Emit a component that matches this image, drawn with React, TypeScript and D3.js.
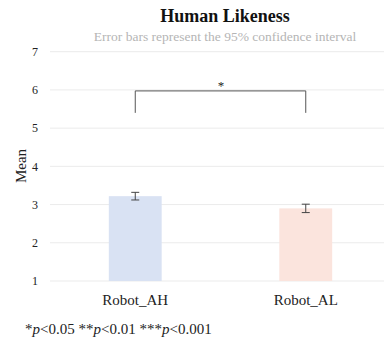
import React from 'react';
import * as d3 from 'd3';

const categories = ['Robot_AH', 'Robot_AL'];
const means = [3.22, 2.9];
const ciHalf = [0.1, 0.11];
const barColors = ['#d9e2f3', '#fbe4dd'];
const yTicks = [1, 2, 3, 4, 5, 6, 7];

const W = 384;
const H = 337;
const FONT = '"Liberation Serif", "DejaVu Serif", serif';

export default function App() {
  const x = d3.scaleBand<string>().domain(categories).range([50, 391]).paddingInner(0.69).paddingOuter(0.345);
  const y = d3.scaleLinear().domain([1, 7]).range([281, 51.7]);
  const bw = x.bandwidth();
  const cx = (c: string) => (x(c) ?? 0) + bw / 2;
  const bracketY = y(6) + 1;
  const bracketBottom = y(5.4);

  return (
    <svg width={W} height={H} style={{ position: 'absolute', left: 0, top: 0, background: '#fff' }}>
      <text x={225} y={22} textAnchor="middle" fontFamily={FONT} fontWeight="bold" fontSize={18} fill="#111">
        Human Likeness
      </text>
      <text x={225} y={41} textAnchor="middle" fontFamily={FONT} fontSize={13.5} fill="#b5b5b5">
        Error bars represent the 95% confidence interval
      </text>

      {yTicks.map(t => (
        <g key={t}>
          <line x1={50} x2={W} y1={y(t)} y2={y(t)} stroke="#ebebeb" strokeWidth={1} />
          <text x={35} y={y(t)} dy="0.35em" textAnchor="middle" fontFamily={FONT} fontSize={12} fill="#222">
            {t}
          </text>
        </g>
      ))}

      <text transform="translate(21,166) rotate(-90)" textAnchor="middle" dy="0.35em"
        fontFamily={FONT} fontSize={15} fill="#222">
        Mean
      </text>

      {categories.map((c, i) => (
        <g key={c}>
          <rect x={x(c)} y={y(means[i])} width={bw} height={y(1) - y(means[i])} fill={barColors[i]} />
          <line x1={cx(c)} x2={cx(c)} y1={y(means[i] + ciHalf[i])} y2={y(means[i] - ciHalf[i])} stroke="#444" strokeWidth={1} />
          <line x1={cx(c) - 4} x2={cx(c) + 4} y1={y(means[i] + ciHalf[i])} y2={y(means[i] + ciHalf[i])} stroke="#444" strokeWidth={1} />
          <line x1={cx(c) - 4} x2={cx(c) + 4} y1={y(means[i] - ciHalf[i])} y2={y(means[i] - ciHalf[i])} stroke="#444" strokeWidth={1} />
          <text x={cx(c)} y={300} dy="0.35em" textAnchor="middle" fontFamily={FONT} fontSize={15} fill="#222">
            {c}
          </text>
        </g>
      ))}

      <path
        d={`M${cx(categories[0])},${bracketBottom}V${bracketY}H${cx(categories[1])}V${bracketBottom}`}
        fill="none" stroke="#555" strokeWidth={1}
      />
      <text x={(cx(categories[0]) + cx(categories[1])) / 2 + 0.5} y={bracketY - 1} textAnchor="middle"
        fontFamily={FONT} fontSize={13} fill="#222">
        *
      </text>

      <text x={25} y={329} dy="0.35em" fontFamily={FONT} fontSize={15} fill="#222">
        *<tspan fontStyle="italic">p</tspan>{'<0.05 **'}<tspan fontStyle="italic">p</tspan>{'<0.01 ***'}
        <tspan fontStyle="italic">p</tspan>{'<0.001'}
      </text>
    </svg>
  );
}
